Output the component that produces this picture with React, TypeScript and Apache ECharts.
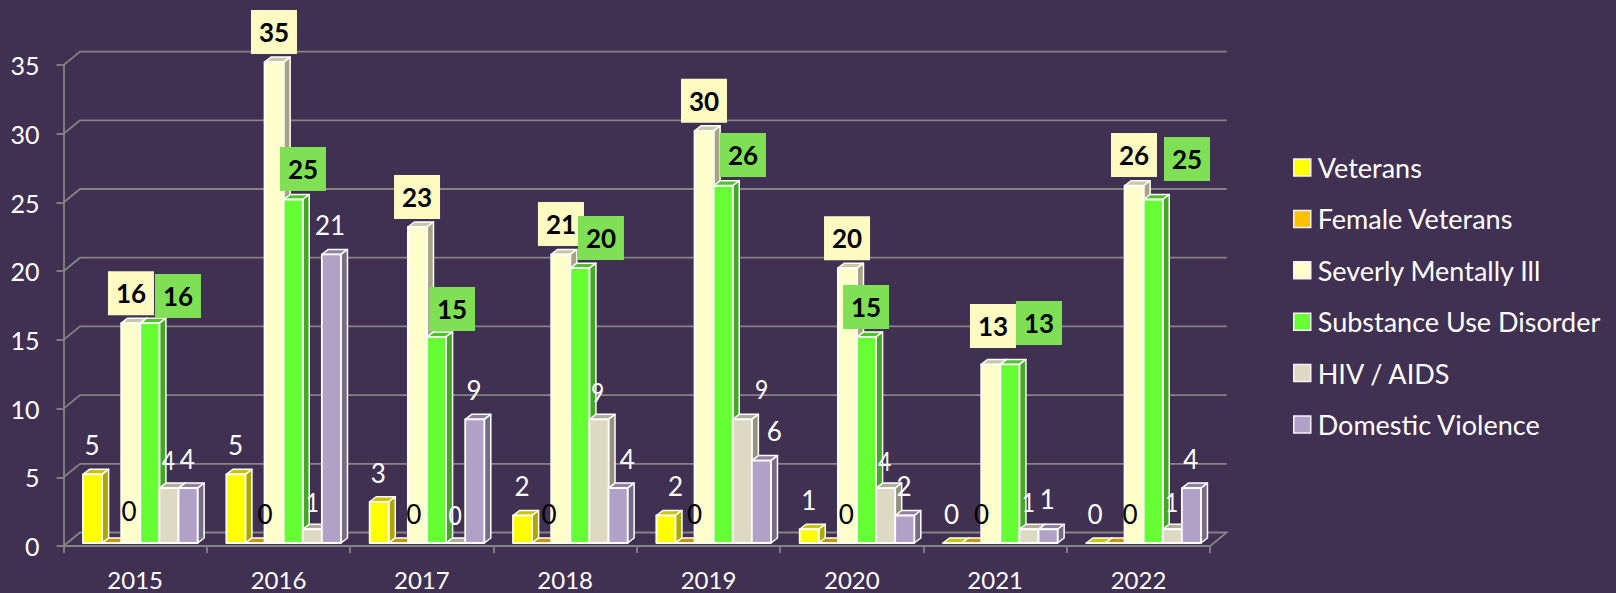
import React, { useEffect, useRef } from "react";
import * as echarts from "echarts";

const categories = ["2015", "2016", "2017", "2018", "2019", "2020", "2021", "2022"];
const gridTicks = [0, 5, 10, 15, 20, 25, 30, 35];

const veterans = [5, 5, 3, 2, 2, 1, 0, 0];
const femaleVeterans = [0, 0, 0, 0, 0, 0, 0, 0];
const severelyMentallyIll = [16, 35, 23, 21, 30, 20, 13, 26];
const substanceUseDisorder = [16, 25, 15, 20, 26, 15, 13, 25];
const hivAids = [4, 1, 0, 9, 9, 4, 1, 1];
const domesticViolence = [4, 21, 9, 4, 6, 2, 1, 4];

const seriesNames = ["Veterans", "Female Veterans", "Severly Mentally Ill", "Substance Use Disorder", "HIV / AIDS", "Domestic Violence"];
const seriesValues = [veterans, femaleVeterans, severelyMentallyIll, substanceUseDisorder, hivAids, domesticViolence];

// [front, top, side] faces of each 3D bar
const faceColors = [
  ["#FFFF00", "#CCC400", "#ABA800"],
  ["#FFC000", "#CC9400", "#AB8000"],
  ["#FFFFCC", "#C9C8A4", "#A7A583"],
  ["#66FF33", "#4FC428", "#43A822"],
  ["#DDD9C3", "#B0AD9B", "#94917F"],
  ["#B2A1C7", "#8E809F", "#776B85"],
];

// Data label placement: x from the category centre, y from the value's position on the axis
const labelDx = [
  [-43, -43, -43.5, -43, -33, -43, -43.5, -43.5],
  [-6, -13.5, -8, -16, -14, -5.5, -13.5, -8.5],
  [-4.2, -4.5, -4.8, -4.2, -4.5, -4.8, -2.2, -4.5],
  [42.8, 24.5, 30.2, 35.8, 34.5, 14.2, 43.8, 48.5],
  [33.1, 33.8, 33.2, 32.5, 53.2, 32.9, 33.1, 33.2],
  [52.1, 51.5, 52.2, 62.1, 65.8, 52.2, 52.1, 52.2],
];
const labelDy = [
  [-32, -32, -32, -32.5, -32.5, -32, -32, -32],
  [-35, -32, -32, -32, -32, -32, -32, -32],
  [-33, -33, -33, -33.5, -33, -33, -41.4, -33.8],
  [-30.2, -33.5, -31, -33.2, -33.8, -33, -44.4, -43.5],
  [-31, -30.6, -31, -30.6, -33.6, -30.3, -30, -30],
  [-32, -32.5, -32.3, -32.3, -32.3, -32.5, -33, -31.7],
];
const labelColors = ["#FFFFFF", "#000000", "#000000", "#000000", "#FFFFFF", "#FFFFFF"];
const labelBoxes = [null, null, "#FFFAC2", "#80E055", null, null];
const labelScaleX = [1, 1, 1, 1, 0.88, 1];

const FONT = "Lato";
const BG = "#403152";
const LINE = "#848484";
const DEPTH_X = 6.5;
const DEPTH_Y = 5;
const LEAD = 0.136;
const SLOT = 0.1333;
const LIFT = 3;

const wallSeries = {
  type: "custom",
  name: "wall",
  silent: true,
  z: 1,
  encode: { x: 0, y: 1 },
  data: gridTicks.map((t) => [0, t]),
  renderItem: (_p: any, api: any) => {
    const v = api.value(1);
    const band = api.size([1, 0])[0];
    const [c0, y] = api.coord([0, v]);
    const [c1] = api.coord([categories.length - 1, v]);
    const left = c0 - band / 2;
    const right = c1 + band / 2;
    const pts: number[][] = [
      [left, y],
      [left + 16.5, y - 13.5],
      [right + 16.5, y - 13.5],
    ];
    if (v === 0) pts.push([right, y]);
    return {
      type: "polyline",
      shape: { points: pts },
      style: { stroke: LINE, lineWidth: 1.8, fill: "none" },
    };
  },
};

const barSeries = seriesNames.map((name, s) => ({
  type: "custom",
  name,
  silent: true,
  z: 2,
  itemStyle: { color: faceColors[s][0] },
  encode: { x: 0, y: 1 },
  data: seriesValues[s].map((v, i) => [i, v]),
  renderItem: (_p: any, api: any) => {
    const i = api.value(0);
    const v = api.value(1);
    const band = api.size([1, 0])[0];
    const [cx, yv] = api.coord([i, v]);
    const [, y0] = api.coord([i, 0]);
    const x0 = cx - band / 2 + band * LEAD + band * SLOT * s;
    const x1 = x0 + band * SLOT;
    const yt = yv - LIFT;
    const yb = y0 - LIFT;
    const face = (points: number[][], fill: string, lw = 1.8) => ({
      type: "polygon",
      shape: { points },
      style: { fill, stroke: "#FFFFFF", lineWidth: lw, lineJoin: "round" },
    });
    return {
      type: "group",
      children: [
        face([[x0, yt], [x1, yt], [x1 + DEPTH_X, yt - DEPTH_Y], [x0 + DEPTH_X, yt - DEPTH_Y]], faceColors[s][1], 1.5),
        face([[x1, yb], [x1 + DEPTH_X, yb - DEPTH_Y], [x1 + DEPTH_X, yt - DEPTH_Y], [x1, yt]], faceColors[s][2], 1.5),
        face([[x0, yb], [x1, yb], [x1, yt], [x0, yt]], faceColors[s][0]),
      ],
    };
  },
}));

const labelData: number[][] = [];
seriesValues.forEach((vals, s) => vals.forEach((v, i) => labelData.push([i, v, s])));

const labelSeries = {
  type: "custom",
  name: "labels",
  silent: true,
  z: 3,
  encode: { x: 0, y: 1 },
  data: labelData,
  renderItem: (_p: any, api: any) => {
    const i = api.value(0);
    const v = api.value(1);
    const s = api.value(2);
    const [cx, yv] = api.coord([i, v]);
    const x = cx + labelDx[s][i];
    const y = yv + labelDy[s][i];
    const box = labelBoxes[s];
    const children: any[] = [];
    if (box) {
      children.push({
        type: "rect",
        shape: { x: x - 23, y: y - 22, width: 46, height: 44 },
        style: { fill: box },
      });
    }
    children.push({
      type: "text",
      x,
      y,
      scaleX: labelScaleX[s],
      style: {
        text: String(v),
        fill: labelColors[s],
        fontFamily: FONT,
        fontSize: 26,
        fontWeight: box ? "bold" : "normal",
        align: "center",
        verticalAlign: "middle",
      },
    });
    return { type: "group", children };
  },
};

const option: any = {
  animation: false,
  backgroundColor: BG,
  textStyle: { fontFamily: FONT },
  grid: { left: 63.5, top: 65.1, width: 1146.67, height: 480.9, containLabel: false },
  xAxis: {
    type: "category",
    data: categories,
    axisLine: { lineStyle: { color: LINE, width: 1.8 } },
    axisTick: { show: true, length: 7, alignWithLabel: false, lineStyle: { color: LINE, width: 1.8 } },
    axisLabel: { color: "#FFFFFF", fontSize: 24, lineHeight: 20, fontFamily: FONT, margin: 23 },
    splitLine: { show: false },
  },
  yAxis: {
    type: "value",
    min: 0,
    max: 35,
    interval: 5,
    axisLine: { show: true, lineStyle: { color: LINE, width: 1.8 } },
    axisTick: { show: true, length: 7, lineStyle: { color: LINE, width: 1.8 } },
    axisLabel: { color: "#FFFFFF", fontSize: 25, fontFamily: FONT, margin: 24 },
    splitLine: { show: false },
  },
  legend: {
    orient: "vertical",
    left: 1293,
    top: 154,
    padding: 0,
    icon: "rect",
    itemWidth: 17,
    itemHeight: 17,
    itemGap: 24.4,
    selectedMode: false,
    data: seriesNames,
    itemStyle: { borderColor: "#F4F2F6", borderWidth: 1.5 },
    textStyle: { color: "#FFFFFF", fontSize: 27, fontFamily: FONT, padding: [0, 0, 0, 2] },
  },
  series: [wallSeries, ...barSeries, labelSeries],
};

export default function App() {
  const ref = useRef<HTMLDivElement>(null);
  useEffect(() => {
    document.body.style.margin = "0";
    document.body.style.background = BG;
    const chart = echarts.init(ref.current!, undefined, { renderer: "svg" });
    chart.setOption(option);
    return () => chart.dispose();
  }, []);
  return <div ref={ref} style={{ width: 1616, height: 593 }} />;
}
